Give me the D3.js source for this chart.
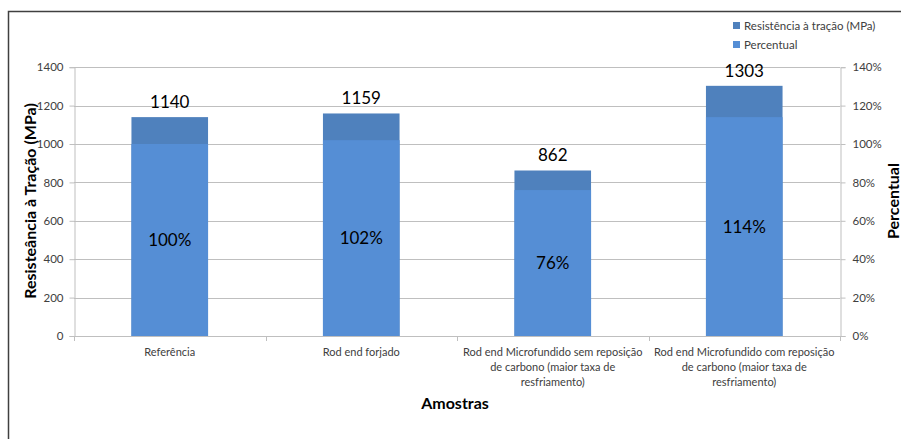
<!DOCTYPE html>
<html><head><meta charset="utf-8">
<script src="https://cdn.jsdelivr.net/npm/d3@7"></script>
<style>body{margin:0;background:#fff}svg{display:block}</style>
</head><body><svg id="c" width="901" height="439"></svg>
<script>
const categories = [
  ["Referência"],
  ["Rod end forjado"],
  ["Rod end Microfundido sem reposição","de carbono (maior taxa de","resfriamento)"],
  ["Rod end Microfundido com reposição","de carbono (maior taxa de","resfriamento)"]
];
const resistencia = [1140, 1159, 862, 1303];
const percentual = [1.00, 1.02, 0.76, 1.14];
const leftTicks = [0,200,400,600,800,1000,1200,1400];
const rightTicks = [0,0.2,0.4,0.6,0.8,1.0,1.2,1.4];
const seriesNames = ["Resistência à tração (MPa)","Percentual"];
const colors = ["#4F81BD","#558ED5"];
const FONT = "Lato, 'Open Sans', sans-serif";

const svg = d3.select("#c");
svg.append("rect").attr("x",8.5).attr("y",11.5).attr("width",1000).attr("height",1000)
  .attr("fill","#fff").attr("stroke","#404040").attr("stroke-width",1.5);

const L=74, R=840, T=67.2, B=336;
const x = d3.scaleBand().domain(d3.range(categories.length)).range([L,R]).paddingInner(0.6).paddingOuter(0.3);
const y = d3.scaleLinear().domain([0,1400]).range([B,T]);
const y2 = d3.scaleLinear().domain([0,1.4]).range([B,T]);

// gridlines
svg.append("g").selectAll("line").data(leftTicks).join("line")
  .attr("x1",L).attr("x2",R).attr("y1",d=>Math.round(y(d))+0.5).attr("y2",d=>Math.round(y(d))+0.5)
  .attr("stroke","#BFBFBF").attr("stroke-width",1);

// bars
const g = svg.append("g");
g.selectAll(".r").data(resistencia).join("rect")
  .attr("x",(d,i)=>x(i)).attr("width",x.bandwidth())
  .attr("y",d=>y(d)).attr("height",d=>B-y(d)).attr("fill",colors[0]);
g.selectAll(".p").data(percentual).join("rect")
  .attr("x",(d,i)=>x(i)).attr("width",x.bandwidth())
  .attr("y",d=>y2(d)).attr("height",d=>B-y2(d)).attr("fill",colors[1]);

// axes
const axL = d3.axisLeft(y).tickValues(leftTicks).tickSize(5).tickPadding(6).tickFormat(d3.format("d"));
const gl = svg.append("g").attr("transform",`translate(${L+0.5},0)`).call(axL);
const axR = d3.axisRight(y2).tickValues(rightTicks).tickSize(5).tickPadding(7).tickFormat(d3.format(".0%"));
const gr = svg.append("g").attr("transform",`translate(${R+0.5},0)`).call(axR);
[gl,gr].forEach(a=>{
  a.select(".domain").attr("stroke","#BFBFBF");
  a.selectAll(".tick line").attr("stroke","#BFBFBF");
  a.selectAll(".tick text").attr("fill","#404040").style("font-family",FONT).style("font-size","11.5px");
});
// category ticks on bottom
const edges = d3.range(categories.length+1).map(i=>L+(R-L)*i/categories.length);
svg.append("g").selectAll("line").data(edges).join("line")
  .attr("x1",d=>Math.round(d)+0.5).attr("x2",d=>Math.round(d)+0.5).attr("y1",B).attr("y2",B+5)
  .attr("stroke","#BFBFBF");

// category labels
const cl = svg.append("g").selectAll("text").data(categories).join("text")
  .attr("x",(d,i)=>x(i)+x.bandwidth()/2).attr("y",356)
  .attr("text-anchor","middle").attr("fill","#404040")
  .style("font-family",FONT).style("font-size","11px");
cl.selectAll("tspan").data(d=>d).join("tspan")
  .attr("x",function(){return this.parentNode.getAttribute("x");})
  .attr("dy",(d,i)=>i?15:0).text(d=>d);

// data labels
svg.append("g").selectAll("text").data(resistencia).join("text")
  .attr("x",(d,i)=>x(i)+x.bandwidth()/2).attr("y",d=>y(d)-9)
  .attr("text-anchor","middle").attr("fill","#000")
  .style("font-family",FONT).style("font-size","17px").text(d=>d);
svg.append("g").selectAll("text").data(percentual).join("text")
  .attr("x",(d,i)=>x(i)+x.bandwidth()/2).attr("y",d=>(y2(d)+B)/2+6)
  .attr("text-anchor","middle").attr("fill","#000")
  .style("font-family",FONT).style("font-size","17px").text(d=>d3.format(".0%")(d));

// axis titles
svg.append("text").attr("transform","translate(36,201) rotate(-90)").attr("text-anchor","middle")
  .style("font-family",FONT).style("font-size","16px").style("font-weight","bold").text("Resisteância à Tração (MPa)");
svg.append("text").attr("transform","translate(899,201) rotate(-90)").attr("text-anchor","middle")
  .style("font-family",FONT).style("font-size","16px").style("font-weight","bold").text("Percentual");
svg.append("text").attr("x",455).attr("y",409).attr("text-anchor","middle")
  .style("font-family",FONT).style("font-size","16px").style("font-weight","bold").text("Amostras");

// legend
const lg = svg.append("g").selectAll("g").data(seriesNames).join("g")
  .attr("transform",(d,i)=>`translate(733,${22+i*19})`);
lg.append("rect").attr("width",7).attr("height",7).attr("fill",(d,i)=>colors[i]);
lg.append("text").attr("x",11).attr("y",7.5).attr("fill","#404040")
  .style("font-family",FONT).style("font-size","11.5px").text(d=>d);
</script></body></html>
